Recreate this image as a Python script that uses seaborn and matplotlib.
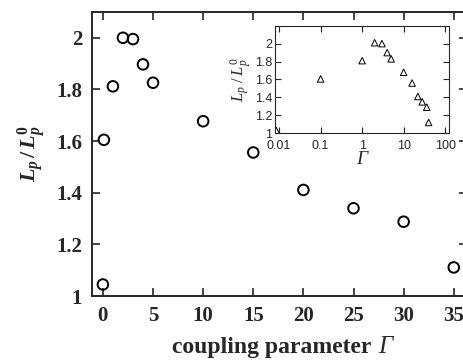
import numpy as np
import pandas as pd
import seaborn as sns
import matplotlib.pyplot as plt

# coupling parameter and normalised persistence length
gamma_main = [0.0, 0.1, 1, 2, 3, 4, 5, 10, 15, 20, 25, 30, 35]
lp_main = [1.045, 1.605, 1.812, 2.0, 1.995, 1.897, 1.826, 1.677, 1.556, 1.411, 1.34, 1.288, 1.111]

gamma_inset = [0.0085, 0.1, 1, 2, 3, 4, 5, 10, 16, 22, 28, 36, 40]
lp_inset = [1.03, 1.606, 1.81, 2.01, 2.0, 1.9, 1.83, 1.68, 1.56, 1.41, 1.35, 1.29, 1.12]

y_ticks = [1, 1.2, 1.4, 1.6, 1.8, 2]
y_ticklabels = ['1', '1.2', '1.4', '1.6', '1.8', '2']
x_ticks = [0, 5, 10, 15, 20, 25, 30, 35]
inset_x_ticks = [0.01, 0.1, 1, 10, 100]
inset_x_ticklabels = ['0.01', '0.1', '1', '10', '100']

sns.set_style('ticks')
plt.rcParams['font.family'] = ['Liberation Serif', 'DejaVu Serif']
plt.rcParams['mathtext.fontset'] = 'custom'
plt.rcParams['mathtext.rm'] = 'Liberation Serif'
plt.rcParams['mathtext.it'] = 'Liberation Serif:italic'
plt.rcParams['mathtext.bf'] = 'Liberation Serif:bold'
plt.rcParams['mathtext.bfit'] = 'Liberation Serif:bold:italic'

main = pd.DataFrame({'g': gamma_main, 'lp': lp_main})
ins = pd.DataFrame({'g': gamma_inset, 'lp': lp_inset})

fig = plt.figure(figsize=(4.64, 3.62), dpi=100)
ax = fig.add_axes([0.198, 0.182, 0.808, 0.785])

sns.scatterplot(data=main, x='g', y='lp', ax=ax, marker='o', s=58,
                facecolor='none', edgecolor='black', linewidth=1.4, clip_on=False)
ax.set_xlim(-1.1, 36.3)
ax.set_ylim(1, 2.1)
ax.set_xticks(x_ticks)
ax.set_yticks(y_ticks)
ax.set_yticklabels(y_ticklabels)
ax.tick_params(direction='in', length=6, width=1.2, top=True, right=True,
               labelsize=15, pad=7)
for lab in ax.get_xticklabels() + ax.get_yticklabels():
    lab.set_fontweight('bold')
for s in ax.spines.values():
    s.set_linewidth(1.4)

# x label: bold words followed by an italic Gamma
xl = ax.text(0.48, -0.2, 'coupling parameter', transform=ax.transAxes, fontsize=17,
             fontweight='bold', ha='center', va='baseline')
ax.annotate('Γ', xy=(1, 0), xycoords=xl, xytext=(5, 0), textcoords='offset points',
            fontsize=18, fontstyle='italic', ha='left', va='bottom')
ax.set_xlabel('')
ax.set_ylabel(r'$\mathbfit{L}_{\mathbfit{p}}\mathbf{\,/\,}\mathbfit{L}_{\mathbfit{p}}^{\mathbf{0}}$',
              fontsize=16, labelpad=6)

# inset on log scale
axi = fig.add_axes([0.593, 0.632, 0.375, 0.297])
sns.scatterplot(data=ins, x='g', y='lp', ax=axi, marker='^', s=22,
                facecolor='none', edgecolor='black', linewidth=0.7)
axi.set_xscale('log')
axi.set_xlim(0.008, 125)
axi.set_ylim(1, 2.2)
axi.set_xticks(inset_x_ticks)
axi.set_xticklabels(inset_x_ticklabels)
axi.set_yticks(y_ticks)
axi.set_yticklabels(y_ticklabels)
axi.tick_params(which='major', direction='in', length=4, width=0.8, top=True, right=True,
                labelsize=9, pad=2)
axi.tick_params(axis='x', which='major', pad=5)
axi.tick_params(which='minor', direction='in', length=2, width=0.5, top=True, right=True)
for lab in axi.get_xticklabels() + axi.get_yticklabels():
    lab.set_fontfamily('Liberation Sans')
for s in axi.spines.values():
    s.set_linewidth(0.8)
axi.set_xlabel('Γ', fontsize=14, fontstyle='italic', labelpad=-1)
axi.set_ylabel(r'$L_p\;/\;L_p^{0}$', fontsize=12, labelpad=1)

fig.savefig('out.png', dpi=100)
